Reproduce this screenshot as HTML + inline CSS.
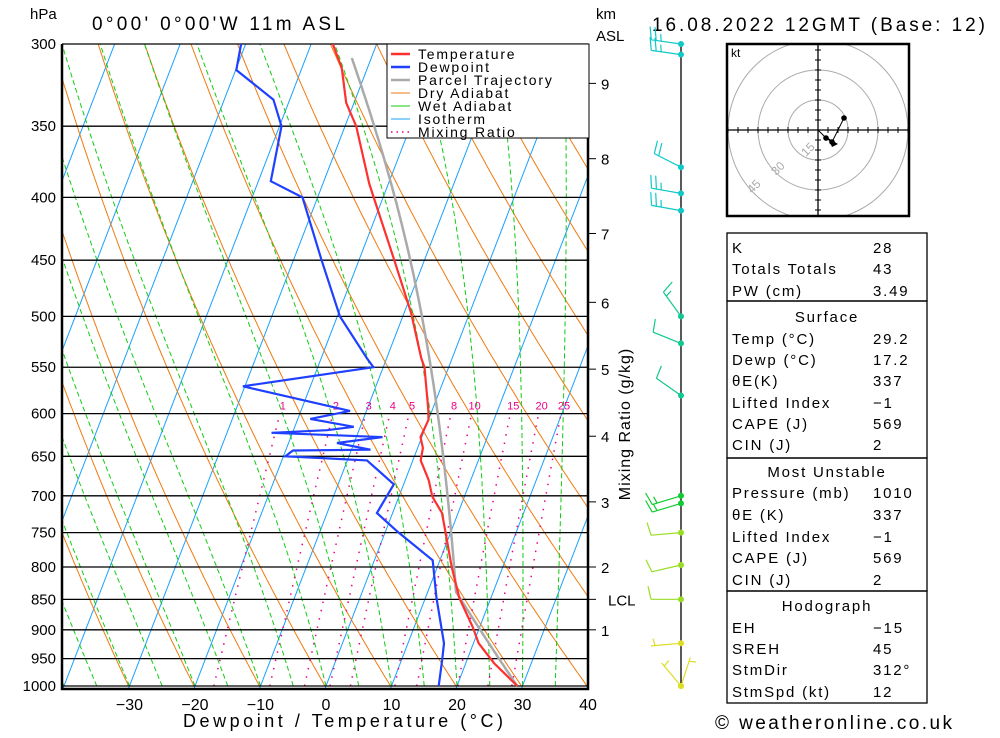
<!DOCTYPE html>
<html><head><meta charset="utf-8"><style>
body{margin:0;background:#fff;}
svg text{font-family:"Liberation Sans","DejaVu Sans",sans-serif;}
</style></head><body>
<svg id="chart" width="1000" height="733" viewBox="0 0 1000 733" xmlns="http://www.w3.org/2000/svg">
<defs><clipPath id="plotclip"><rect x="62" y="44" width="526" height="645"/></clipPath>
<clipPath id="hodoclip"><rect x="727" y="44" width="182" height="172"/></clipPath></defs>
<rect x="0" y="0" width="1000" height="733" fill="#fff"/>
<g id="bg" clip-path="url(#plotclip)"></g>
<g id="grid"></g>
<g id="data" clip-path="url(#plotclip)"></g>
<g id="axes"></g>
<text x="30" y="19" font-size="15">hPa</text>
<text x="92" y="30" font-size="19" textLength="253" lengthAdjust="spacing">0°00'  0°00'W  11m  ASL</text>
<text x="596" y="19" font-size="15">km</text>
<text x="596" y="41" font-size="15">ASL</text>
<text x="652" y="31" font-size="19" textLength="333" lengthAdjust="spacing">16.08.2022  12GMT  (Base:  12)</text>
<text x="183" y="727" font-size="18" textLength="320" lengthAdjust="spacing">Dewpoint  /  Temperature  (°C)</text>
<text x="630" y="424" font-size="16" text-anchor="middle" letter-spacing="1" transform="rotate(-90 630 424)">Mixing  Ratio  (g/kg)</text>
<text x="715" y="729" font-size="19" textLength="237" lengthAdjust="spacing">© weatheronline.co.uk</text>
<g id="legend">
<rect x="387" y="44" width="202" height="94" fill="#fff" stroke="#000" stroke-width="1"/>
</g>
<g id="winds"></g>
<g id="hodo">
<g id="hodoIn" clip-path="url(#hodoclip)"></g>
</g>
<g id="table"></g>
</svg>
<script>
// ---- data ----
const tempP=[1000,958,923,895,848,800,751,723,701,680,655,640,627,607,596,550,541,497,450,390,350,335,314,300];
const tempT=[29.2,24.3,20.8,18.9,15.2,12.2,9.3,7.55,5.1,3.6,1.2,0.8,-0.2,0,-0.6,-3.7,-4.7,-8.9,-14.6,-22.9,-28.3,-31.2,-33.9,-36.7];
const dewP=[1000,952,923,848,790,749,723,685,655,652,650,643,642,634,627,622,619,615,606,597,570,550,541,500,450,400,388,350,333,315,300];
const dewT=[17.2,16.2,15.5,11.7,8.9,1.9,-2.4,-1.5,-7.0,-14.7,-19.7,-18.9,-7.1,-12.6,-6.0,-23.2,-14.9,-11.0,-18.1,-12.5,-30.3,-11.5,-13.0,-19.6,-25.7,-32.3,-38.1,-39.7,-42.5,-49.9,-50.7];
const pressureTicks=[300,350,400,450,500,550,600,650,700,750,800,850,900,950,1000];
const tempTicks=[-30,-20,-10,0,10,20,30,40];
const isotherms=[-120,-110,-100,-90,-80,-70,-60,-50,-40,-30,-20,-10,0,10,20,30,40];
const dryThetas=[213,223,233,243,253,263,273,283,293,303,313,323,333,343,353,363,373,383,393,403,413,423,433,443];
const wetThetas=[-40,-35,-30,-25,-20,-15,-10,-5,0,5,10,15,20,25,30,35];
const mixRatios=[1,2,3,4,5,8,10,15,20,25];
const kmLabels=['9','8','7','6','5','4','3','2','1','LCL'];
const kmPress=[323,372,428,487,552,626,708,800,900,850];
const windP=[300,306,378,397,410,500,526,580,700,710,750,797,850,923,1000,1000];
const windDir=[278,278,297,280,280,324,292,305,253,253,265,257,270,265,18,320];
const windSpd=[25,25,20,25,25,15,10,10,15,15,10,10,10,5,5,5];
const hodoU=[0,4,7,13];
const hodoV=[0,-4,-6,6];
const tableLabels=['K','Totals Totals','PW (cm)','Surface','Temp (°C)','Dewp (°C)','θE(K)','Lifted Index','CAPE (J)','CIN (J)','Most Unstable','Pressure (mb)','θE (K)','Lifted Index','CAPE (J)','CIN (J)','Hodograph','EH','SREH','StmDir','StmSpd (kt)'];
const tableValues=['28','43','3.49','','29.2','17.2','337','−1','569','2','','1010','337','−1','569','2','','−15','45','312°','12'];

// ---- scales ----
const NS='http://www.w3.org/2000/svg';
function Y(p){return 44+642*Math.log(p/300)/Math.log(1000/300);}
function X(T,p){return 326+6.55*T+0.385*(686-Y(p));}
function el(tag,attrs,parent){const e=document.createElementNS(NS,tag);for(const k in attrs)e.setAttribute(k,attrs[k]);parent.appendChild(e);return e;}
const bg=document.getElementById('bg'),grid=document.getElementById('grid'),dataG=document.getElementById('data'),axes=document.getElementById('axes');
function poly(pts){return pts.map(q=>q[0].toFixed(1)+','+q[1].toFixed(1)).join(' ');}
const plevels=[];for(let p=1000;p>=290;p-=5)plevels.push(p);

isotherms.forEach(t=>{
  const l=el('line',{x1:X(t,1050),y1:Y(1050),x2:X(t,280),y2:Y(280),stroke:'#1aa0ff','stroke-width':1},bg);
  
  
});
dryThetas.forEach(th=>{
  const pts=plevels.map(p=>[X(th*Math.pow(p/1000,0.2857)-273.15,p),Y(p)]);
  const l=el('polyline',{points:poly(pts),fill:'none',stroke:'#f07a10','stroke-width':1},bg);
  
  
});
function esat(T){return 6.112*Math.exp(17.67*T/(T+243.5));}
function moistPath(T0,p0,pEnd){
  const pts=[];let T=T0+273.15;let p=p0;
  while(p>=pEnd){
    pts.push([p,T-273.15]);
    const rs=0.622*esat(T-273.15)/(p-esat(T-273.15));
    const Rd=287,Lv=2.5e6,cp=1005,eps=0.622;
    const dTdp=(1/p)*(Rd*T+Lv*rs)/(cp+Lv*Lv*rs*eps/(Rd*T*T));
    T-=dTdp*2;p-=2;
  }
  return pts;
}
wetThetas.forEach(t=>{
  const pts=moistPath(t,1000,300).map(q=>[X(q[1],q[0]),Y(q[0])]);
  const l=el('polyline',{points:poly(pts),fill:'none',stroke:'#10cc10','stroke-width':1,'stroke-dasharray':'5,3'},bg);
  
  
});
function tdFromW(w,p){const e=w*p/(622+w);const a=Math.log(e/6.112);return 243.5*a/(17.67-a);}
mixRatios.forEach(w=>{
  const pts=[];for(let p=1000;p>=600;p-=10)pts.push([X(tdFromW(w,p),p),Y(p)]);
  const l=el('polyline',{points:poly(pts),fill:'none',stroke:'#ee0088','stroke-width':1.5,'stroke-dasharray':'1.5,7'},bg);
  
  
  const tx=el('text',{x:X(tdFromW(w,600),600)+3,y:Y(600)-4,'font-size':11,fill:'#ee0088','text-anchor':'middle'},bg);
  tx.textContent=String(w);
  
  
});
pressureTicks.forEach(p=>{
  const l=el('line',{x1:62,y1:Y(p),x2:588,y2:Y(p),stroke:'#000','stroke-width':1.3},grid);
  
  
  const t=el('text',{x:56,y:Y(p)+5,'font-size':15,'text-anchor':'end'},axes);
  t.textContent=String(p);
  
  
});
const fr=el('path',{d:'M62,44 L62,689 L588,689 L588,44',fill:'none',stroke:'#000','stroke-width':2.5},axes);


tempTicks.forEach(t=>{
  const x=X(t,1000);
  const tx=el('text',{x:x,y:710,'font-size':16,'text-anchor':'middle'},axes);
  tx.textContent=(t<0?'−':'')+Math.abs(t);
  
  
});
kmLabels.forEach((k,i)=>{
  const y=Y(kmPress[i]);
  const l=el('line',{x1:588,y1:y,x2:596,y2:y,stroke:'#000','stroke-width':1},axes);
  
  
  const t=el('text',{x:k==='LCL'?608:601,y:y+6,'font-size':15},axes);
  t.textContent=k;
  
  
});
(function(){
  const T0=tempT[0]+273.15,Td0=dewT[0];
  const w=622*esat(Td0)/(1000-esat(Td0));
  let pts=[],p=1000,T=T0;
  while(p>300){T=T0*Math.pow(p/1000,0.2857);if(T-273.15<=tdFromW(w,p))break;pts.push([p,T-273.15]);p-=2;}
  pts=pts.concat(moistPath(T-273.15,p,307));
  const l=el('polyline',{points:poly(pts.map(q=>[X(q[1],q[0]),Y(q[0])])),fill:'none',stroke:'#aaaaaa','stroke-width':2.5},dataG);
  
  
})();
const tl=el('polyline',{points:poly(tempP.map((p,i)=>[X(tempT[i],p),Y(p)])),fill:'none',stroke:'#ff3030','stroke-width':2.2},dataG);


const dl=el('polyline',{points:poly(dewP.map((p,i)=>[X(dewT[i],p),Y(p)])),fill:'none',stroke:'#2040ff','stroke-width':2.2},dataG);



const leg=document.getElementById('legend');
[['Temperature','#ff3030',2.5,''],['Dewpoint','#2040ff',2.5,''],['Parcel Trajectory','#aaaaaa',2.5,''],['Dry Adiabat','#f07a10',1,''],['Wet Adiabat','#10cc10',1,''],['Isotherm','#1aa0ff',1,''],['Mixing Ratio','#ee0088',1.5,'1.5,4']].forEach((r,i)=>{
  const y=54+i*13;
  const l=el('line',{x1:391,y1:y,x2:410,y2:y,stroke:r[1],'stroke-width':r[2]},leg);
  if(r[3])l.setAttribute('stroke-dasharray',r[3]);
  
  
  const t=el('text',{x:418,y:y+5,'font-size':14,'letter-spacing':'1.8'},leg);
  t.textContent=r[0];
  
  
});

const wg=document.getElementById('winds');
const staff=el('line',{x1:681,y1:44,x2:681,y2:689,stroke:'#000','stroke-width':1.3},wg);


function windColor(p){if(p<420)return '#10c8c8';if(p<600)return '#10c890';if(p<720)return '#10cc30';if(p<880)return '#99dd22';return '#dddd22';}
windP.forEach((p,i)=>{
  const x0=681,y0=Y(p),c=windColor(p);
  const a=windDir[i]*Math.PI/180,ux=Math.sin(a),uy=-Math.cos(a);
  const L=30,xt=x0+ux*L,yt=y0+uy*L;
  const px=-uy,py=ux;
  let d='M'+x0+','+y0.toFixed(1)+' L'+xt.toFixed(1)+','+yt.toFixed(1);
  let s=windSpd[i],pos=0;
  while(s>=10){const bx=xt-ux*pos,by=yt-uy*pos;d+=' M'+bx.toFixed(1)+','+by.toFixed(1)+' l'+(px*13+ux*3).toFixed(1)+','+(py*13+uy*3).toFixed(1);s-=10;pos+=5;}
  if(s>=5){if(pos===0)pos=4;const bx=xt-ux*pos,by=yt-uy*pos;d+=' M'+bx.toFixed(1)+','+by.toFixed(1)+' l'+(px*7+ux*1.5).toFixed(1)+','+(py*7+uy*1.5).toFixed(1);}
  const b=el('path',{d:d,fill:'none',stroke:c,'stroke-width':1.2},wg);
  
  
  const dot=el('circle',{cx:x0,cy:y0,r:3,fill:c},wg);
  
  
});

// hodograph
const hg=document.getElementById('hodo'),hin=document.getElementById('hodoIn');
const cx=818,cy=130;
[15,30,45].forEach(r=>{
  const c=el('circle',{cx:cx,cy:cy,r:r*2,fill:'none',stroke:'#aaa','stroke-width':1},hin);
  
  
});
const ax=el('path',{d:'M727,130 H909 M818,44 V216',stroke:'#000','stroke-width':1.3},hin);


for(let k=-45;k<=45;k+=5){if(k===0)continue;
  const t=el('path',{d:'M'+(cx+k*2)+','+(cy-3)+' v6 M'+(cx-3)+','+(cy+k*2)+' h6',stroke:'#000','stroke-width':1},hin);
  
  
}
[['15',806,157],['30',776,176],['45',752,194]].forEach(r=>{
  const t=el('text',{x:r[1],y:r[2],'font-size':12,fill:'#aaa',transform:'rotate(-45 '+r[1]+' '+r[2]+')'},hin);
  t.textContent=r[0];
  
  
});
const hm=el('rect',{x:727,y:44,width:182,height:172,fill:'none',stroke:'#000','stroke-width':2.5},hg);


const kt=el('text',{x:731,y:57,'font-size':12},hg);kt.textContent='kt';


const hl=el('polyline',{points:poly(hodoU.map((u,i)=>[cx+u*2,cy-hodoV[i]*2])),fill:'none',stroke:'#000','stroke-width':1},hg);


hodoU.forEach((u,i)=>{if(i===0)return;
  const d=el('circle',{cx:cx+u*2,cy:cy-hodoV[i]*2,r:2.8,fill:'#000'},hg);
  
  
});
const tri=el('path',{d:'M828,138 L838,144 L832,147 Z',fill:'#000'},hg);



const tg=document.getElementById('table');
[[233,68],[301,157],[458,133],[591,112]].forEach(b=>{
  const r=el('rect',{x:727,y:b[0],width:200,height:b[1],fill:'none',stroke:'#000','stroke-width':1.3},tg);
  
  
});
const rowY=[247,268,290,316,338,359,380,402,423,444,471,492,514,536,557,579,605,627,648,669,691];
tableLabels.forEach((lab,i)=>{
  const header=tableValues[i]==='';
  const t=el('text',{x:header?827:732,y:rowY[i]+6,'font-size':15,'letter-spacing':'1.8','text-anchor':header?'middle':'start'},tg);
  t.textContent=lab;
  
  
  if(!header){
    const v=el('text',{x:873,y:rowY[i]+6,'font-size':15,'letter-spacing':'1.8'},tg);
    v.textContent=tableValues[i];
    
    
  }
});
</script>
</body></html>
